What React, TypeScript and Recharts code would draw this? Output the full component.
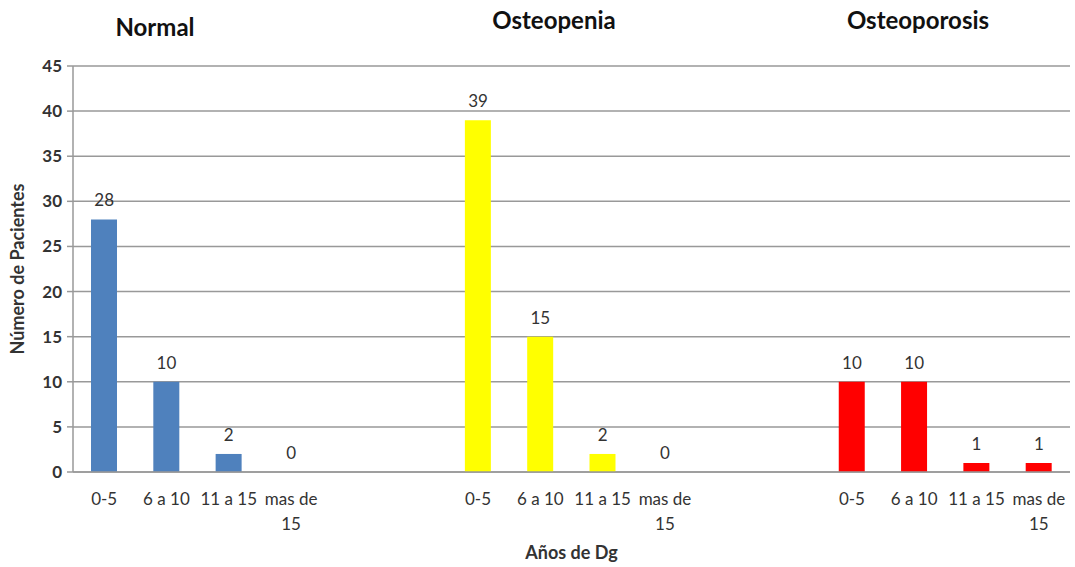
import React from "react";
import {
  ComposedChart,
  Bar,
  Line,
  XAxis,
  YAxis,
  CartesianGrid,
  Cell,
  LabelList,
  Text,
} from "recharts";

const groups = ["Normal", "Osteopenia", "Osteoporosis"];
const ageRanges = ["0-5", "6 a 10", "11 a 15", "mas de 15"];
const normalValues = [28, 10, 2, 0];
const osteopeniaValues = [39, 15, 2, 0];
const osteoporosisValues = [10, 10, 1, 1];
const groupColors = ["#4F81BD", "#FFFF00", "#FF0000"];
const yTicks = [0, 5, 10, 15, 20, 25, 30, 35, 40, 45];

interface Row {
  key: string;
  label: string;
  value: number | null;
  color: string;
}

const groupValues = [normalValues, osteopeniaValues, osteoporosisValues];
const data: Row[] = [];
groupValues.forEach((vals, gi) => {
  vals.forEach((v, i) => {
    data.push({ key: `g${gi}-${i}`, label: ageRanges[i], value: v, color: groupColors[gi] });
  });
  if (gi < groupValues.length - 1) {
    for (let j = 0; j < 2; j++) {
      data.push({ key: `gap${gi}-${j}`, label: "", value: null, color: "none" });
    }
  }
});

const font = "Lato, 'Noto Sans', sans-serif";

const XTick = (props: any) => {
  const { x, y, payload } = props;
  const row = data[payload.index];
  if (!row || !row.label) return null;
  return (
    <Text
      x={x}
      y={y + 13}
      width={62}
      textAnchor="middle"
      verticalAnchor="start"
      fontSize={17}
      fontFamily={font}
      fill="#333"
      lineHeight={25}
    >
      {row.label}
    </Text>
  );
};

// labels are hung on an invisible line so that zero values get one too
const ValueLabel = (props: any) => {
  const { x, y, value } = props;
  if (value === null || value === undefined || y === null || y === undefined) return null;
  return (
    <text x={x} y={y - 13} textAnchor="middle" fontSize={17} fontFamily={font} fill="#333">
      {value}
    </text>
  );
};

const titlePos = [
  { x: 155, y: 27 },
  { x: 554, y: 20 },
  { x: 918, y: 20 },
];

export default function App() {
  return (
    <div style={{ position: "absolute", left: 0, top: 0, width: 1075, height: 567, background: "#fff" }}>
      <ComposedChart
        width={1075}
        height={567}
        data={data}
        margin={{ top: 66, right: 5, bottom: 0, left: 0 }}
        barSize={26}
      >
        <CartesianGrid vertical={false} stroke="#999" strokeWidth={1.5} />
        <XAxis
          dataKey="key"
          interval={0}
          tickLine={false}
          stroke="#999"
          strokeWidth={1.5}
          height={95}
          tick={<XTick />}
          label={{
            value: "Años de Dg",
            position: "insideBottom",
            offset: 8,
            style: { fontFamily: font, fontWeight: 700, fontSize: 18, fill: "#333" },
          }}
        />
        <YAxis
          width={73}
          domain={[0, 45]}
          ticks={yTicks}
          interval={0}
          stroke="#999"
          strokeWidth={1.5}
          tickSize={6}
          tick={{ fontSize: 17, fontFamily: font, fill: "#333", fontWeight: 700, dx: -3 }}
          label={{
            value: "Número de Pacientes",
            angle: -90,
            position: "insideLeft",
            offset: 18,
            style: { textAnchor: "middle", fontFamily: font, fontWeight: 700, fontSize: 18, fill: "#333" },
          }}
        />
        <Bar dataKey="value" isAnimationActive={false}>
          {data.map((row) => (
            <Cell key={row.key} fill={row.color} />
          ))}
        </Bar>
        <Line
          dataKey="value"
          stroke="none"
          dot={false}
          activeDot={false}
          isAnimationActive={false}
        >
          <LabelList dataKey="value" content={<ValueLabel />} />
        </Line>
      </ComposedChart>
      {groups.map((g, i) => (
        <div
          key={g}
          style={{
            position: "absolute",
            left: titlePos[i].x - 100,
            top: titlePos[i].y - 15,
            width: 200,
            textAlign: "center",
            fontFamily: font,
            fontWeight: 700,
            fontSize: 24,
            color: "#111",
          }}
        >
          {g}
        </div>
      ))}
    </div>
  );
}
